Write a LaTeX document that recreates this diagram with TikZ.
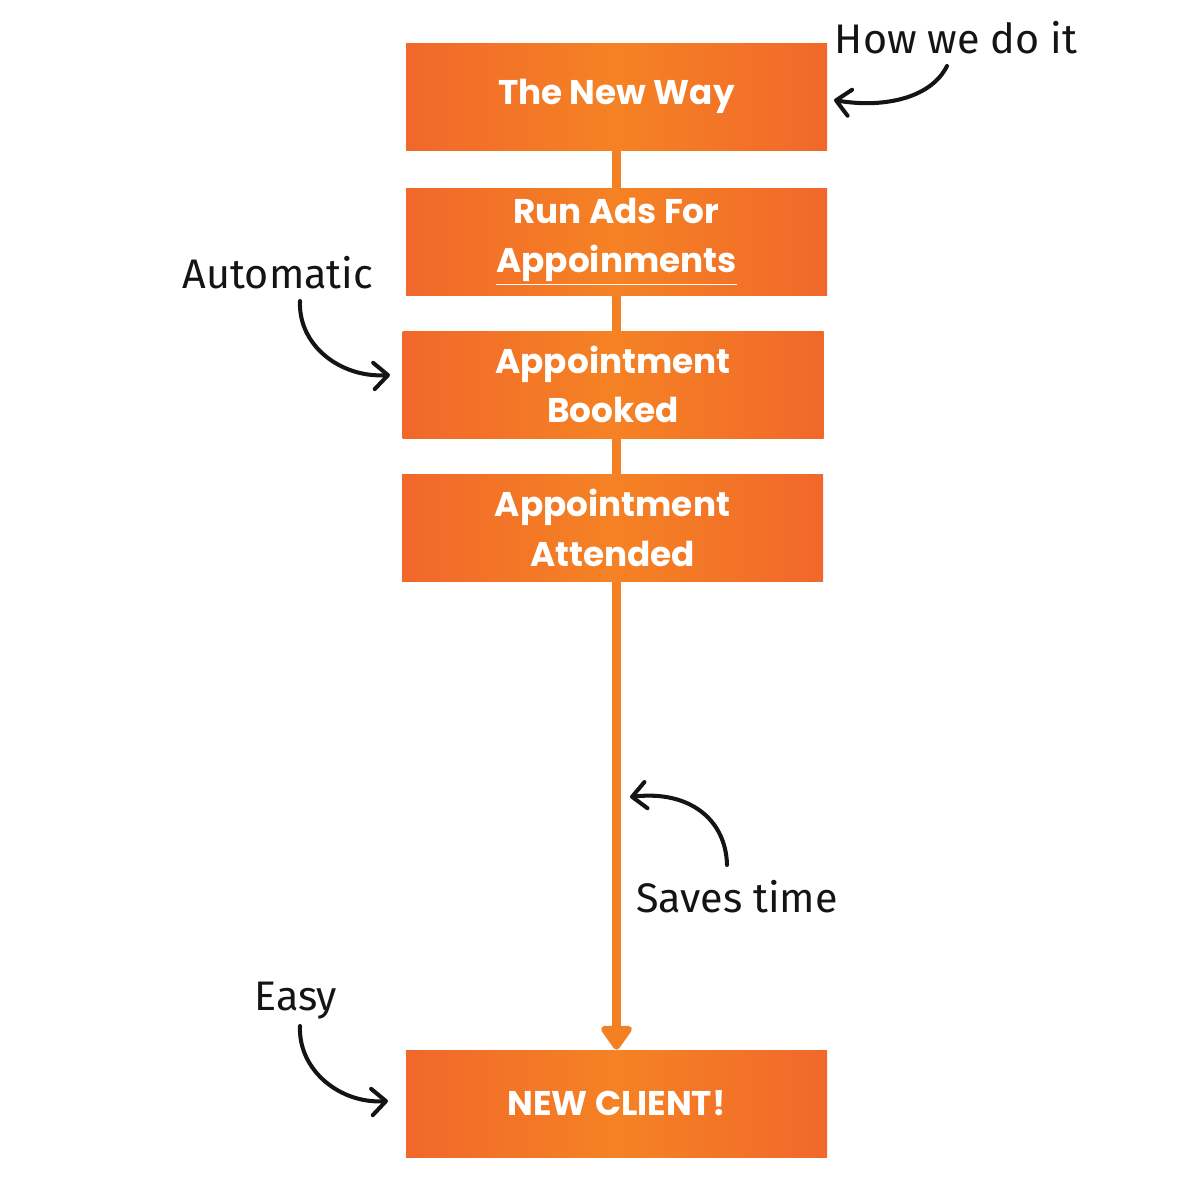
\documentclass[tikz,border=0pt]{standalone}
\usepackage{fontspec}
\setmainfont{Poppins}
\newfontfamily\handfont{Fira Sans}
\usetikzlibrary{arrows.meta}
\definecolor{orA}{RGB}{241,104,42}
\definecolor{orB}{RGB}{245,130,36}
\definecolor{lineor}{RGB}{243,128,34}
\definecolor{ink}{RGB}{20,20,20}
\tikzset{
  stepbox/.style={draw=none, minimum width=421*0.02cm, minimum height=107*0.02cm,
    left color=orA, right color=orA, middle color=orB, shading angle=90,
    text=white, font=\fontsize{19.5}{28}\selectfont\bfseries, align=center, inner sep=0pt},
  flow/.style={draw=lineor, line width=5.2pt},
  note/.style={font=\handfont\fontsize{23.5}{26}\selectfont, text=ink, inner sep=0pt},
  notearrow/.style={draw=ink, line width=2.3pt, line cap=round,
    -{Straight Barb[length=8pt, width=15pt, line cap=round, line join=round]}}
}
\begin{document}
\begin{tikzpicture}[x=0.02cm, y=-0.02cm]
\useasboundingbox (0,0) rectangle (1200,1200);
\node[stepbox] (a) at (616.5,96.5) {The New Way};
\node[stepbox] (b) at (616.5,241.5) {Run Ads For\\\underline{Appoinments}};
\node[stepbox] (c) at (613,384.5) {Appointment\\Booked};
\node[stepbox] (d) at (612.5,528) {Appointment\\Attended};
\node[stepbox] (e) at (616.5,1103.5) {NEW CLIENT!};
\draw[flow] (a.south -| e.north) -- (b.north -| e.north);
\draw[flow] (b.south -| e.north) -- (c.north -| e.north);
\draw[flow] (c.south -| e.north) -- (d.north -| e.north);
\draw[flow, -{Triangle[width=20pt, length=15pt, round]}] (d.south -| e.north) -- (e.north);
% annotations
\node[note] (how) at (956,38) {How we do it};
\node[note] (auto) at (278,273) {Automatic};
\node[note] (saves) at (737,897) {Saves time};
\node[note] (easy) at (296,1001) {Easy};
\coordinate (h1) at (947,66);
\coordinate (h2) at (834,100);
\coordinate (a1) at (300,301);
\coordinate (a2) at (390,375);
\coordinate (s1) at (727,865);
\coordinate (s2) at (630,797);
\coordinate (e1) at (300,1026);
\coordinate (e2) at (388,1101);
\draw[notearrow] (h1) .. controls (930,100) and (880,108) .. (h2);
\draw[notearrow] (a1) .. controls (298,345) and (340,378) .. (a2);
\draw[notearrow] (s1) .. controls (726,820) and (690,790) .. (s2);
\draw[notearrow] (e1) .. controls (298,1070) and (340,1104) .. (e2);
\end{tikzpicture}
\end{document}
